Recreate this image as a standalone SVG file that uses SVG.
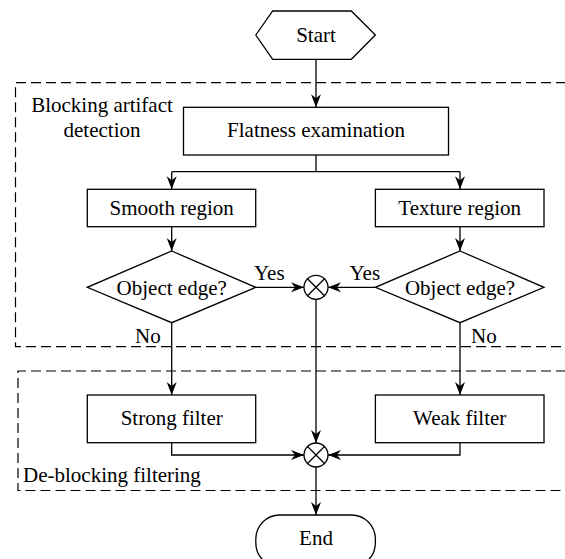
<svg xmlns="http://www.w3.org/2000/svg" width="565" height="559" viewBox="0 0 565 559">
<style>
.box{fill:#fff;stroke:#000;stroke-width:1.3}
.dash{fill:none;stroke:#000;stroke-width:1.2;stroke-dasharray:10 5}
.ln{fill:none;stroke:#000;stroke-width:1.3}
.arr{marker-end:url(#ah)}
.c{text-anchor:middle}
</style>
<defs>
<marker id="ah" markerUnits="userSpaceOnUse" markerWidth="16" markerHeight="12" viewBox="-14 -6 16 12" refX="0" refY="0" orient="auto">
<path d="M0,0 L-13,-5 L-9,0 L-13,5 Z" fill="#000"/>
</marker>
</defs>
<rect width="565" height="559" fill="#fff"/>
<g font-family="Liberation Serif, serif" font-size="21" fill="#000">
<g id="group-detection">
<path class="dash" d="M566,82.7 H15.5 V346.7 H566"/>
<text class="c" x="102" y="111.7">Blocking artifact</text>
<text class="c" x="102" y="136.7">detection</text>
</g>
<g id="group-filtering">
<path class="dash" d="M566,371 H18 V490.5 H566"/>
<text x="23" y="481.5">De-blocking filtering</text>
</g>
<g id="connectors">
<line class="ln arr" x1="316" y1="59.3" x2="316" y2="107.3"/>
<path class="ln" d="M316,155 V171.7 M171.7,171.7 H460"/>
<line class="ln arr" x1="171.7" y1="171.7" x2="171.7" y2="189.3"/>
<line class="ln arr" x1="460" y1="171.7" x2="460" y2="189.3"/>
<line class="ln arr" x1="171.7" y1="226.7" x2="171.7" y2="251"/>
<line class="ln arr" x1="460" y1="226.7" x2="460" y2="251"/>
<line class="ln arr" x1="255.7" y1="287.3" x2="304" y2="287.3"/>
<line class="ln arr" x1="375.4" y1="287.3" x2="328" y2="287.3"/>
<line class="ln arr" x1="171.7" y1="322.7" x2="171.7" y2="395"/>
<line class="ln arr" x1="460" y1="322.7" x2="460" y2="395"/>
<line class="ln arr" x1="316" y1="299.3" x2="316" y2="443"/>
<path class="ln arr" d="M171.7,442.7 V455 H304"/>
<path class="ln arr" d="M460,442.7 V455 H328"/>
<line class="ln arr" x1="316" y1="467" x2="316" y2="515"/>
<text x="254" y="280">Yes</text>
<text x="349.5" y="280">Yes</text>
<text x="135" y="343">No</text>
<text x="471" y="343">No</text>
</g>
<g id="start">
<polygon class="box" points="255.8,35 272.7,11 351.3,11 375.4,35 351.3,59.3 272.7,59.3"/>
<text class="c" x="316" y="42">Start</text>
</g>
<g id="flatness">
<rect class="box" x="183.5" y="107.3" width="265" height="47.7"/>
<text class="c" x="316" y="137">Flatness examination</text>
</g>
<g id="smooth">
<rect class="box" x="87.3" y="189.3" width="168.4" height="37.4"/>
<text class="c" x="171.7" y="215">Smooth region</text>
</g>
<g id="texture">
<rect class="box" x="375.4" y="189.3" width="168.6" height="37.4"/>
<text class="c" x="459.7" y="215">Texture region</text>
</g>
<g id="edge-left">
<polygon class="box" points="171.7,251 255.7,287.3 171.7,322.7 87.3,287.3"/>
<text class="c" x="171.7" y="295">Object edge?</text>
</g>
<g id="edge-right">
<polygon class="box" points="460,251 544,287.3 460,322.7 375.4,287.3"/>
<text class="c" x="460" y="295">Object edge?</text>
</g>
<g id="merge1">
<circle class="box" cx="316" cy="287.3" r="12"/>
<path class="ln" d="M307.5,278.8 L324.5,295.8 M324.5,278.8 L307.5,295.8"/>
</g>
<g id="strong">
<rect class="box" x="87.3" y="395" width="168.4" height="47.7"/>
<text class="c" x="171.7" y="425">Strong filter</text>
</g>
<g id="weak">
<rect class="box" x="375.4" y="395" width="168.6" height="47.7"/>
<text class="c" x="459.7" y="425">Weak filter</text>
</g>
<g id="merge2">
<circle class="box" cx="316" cy="455" r="12"/>
<path class="ln" d="M307.5,446.5 L324.5,463.5 M324.5,446.5 L307.5,463.5"/>
</g>
<g id="end">
<rect class="box" x="255.8" y="515" width="119.6" height="52" rx="24" ry="24"/>
<text class="c" x="316" y="545">End</text>
</g>
</g>
</svg>
